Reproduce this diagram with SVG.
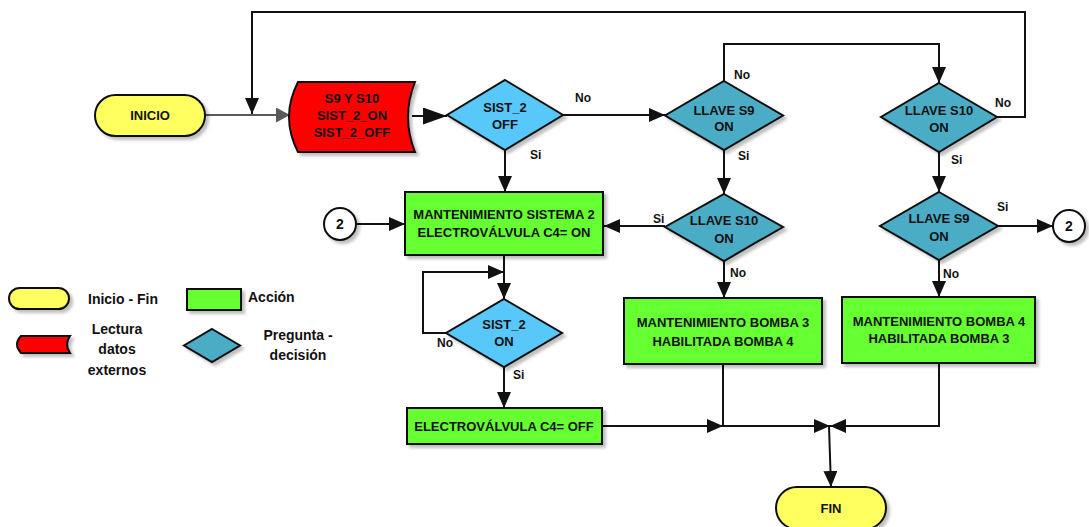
<svg xmlns="http://www.w3.org/2000/svg" width="1089" height="527" viewBox="0 0 1089 527">
<style>
text{font-family:"Liberation Sans",Arial,sans-serif;font-weight:bold;fill:#111}
.t{font-size:13px;text-anchor:middle}
.lb{font-size:12px}
.lg{font-size:14px;text-anchor:middle}
.sh{stroke:#111;stroke-width:2;filter:url(#ds)}
.term{fill:#FFFF5E}
.act{fill:#66FF33}
.rd{fill:#FF0000}
.dlb{fill:#59C8FA}
.dtl{fill:#4BACC6}
.cir{fill:#fff}
.c{fill:none;stroke:#111;stroke-width:2}
.cg{fill:none;stroke:#595959;stroke-width:2}
</style>
<defs>
<filter id="ds" x="-20%" y="-20%" width="150%" height="160%">
<feDropShadow dx="3" dy="3" stdDeviation="1.5" flood-color="#000" flood-opacity="0.25"/>
</filter>
<marker id="a" markerUnits="userSpaceOnUse" markerWidth="18" markerHeight="16" refX="16" refY="7" orient="auto">
<path d="M0,0 L16,7 L0,14 Z" fill="#111"/>
</marker>
<marker id="ab" markerUnits="userSpaceOnUse" markerWidth="26" markerHeight="18" refX="24" refY="8.5" orient="auto">
<path d="M0,0 L24,8.5 L0,17 Z" fill="#111"/>
</marker>
<marker id="ag" markerUnits="userSpaceOnUse" markerWidth="16" markerHeight="16" refX="14" refY="7.5" orient="auto">
<path d="M0,0 L14,7.5 L0,15 Z" fill="#595959"/>
</marker>
</defs>
<rect width="1089" height="527" fill="#fff"/>

<g id="connectors">
<path class="cg" d="M205,115 H290" marker-end="url(#ag)"/>
<path class="c" d="M997,117 H1025 V12 H252 V114" marker-end="url(#a)"/>
<path class="c" d="M412,116 H447" marker-end="url(#ab)"/>
<path class="c" d="M563,115 H665" marker-end="url(#a)"/>
<path class="c" d="M505,150 V192" marker-end="url(#a)"/>
<path class="c" d="M357,224 H405" marker-end="url(#a)"/>
<path class="c" d="M724,81 V44 H939 V83" marker-end="url(#a)"/>
<path class="c" d="M724,150 V194" marker-end="url(#a)"/>
<path class="c" d="M665,226 H604" marker-end="url(#a)"/>
<path class="c" d="M939,152 V192" marker-end="url(#a)"/>
<path class="c" d="M998,226 H1053" marker-end="url(#a)"/>
<path class="c" d="M724,261 V298" marker-end="url(#a)"/>
<path class="c" d="M939,260 V297" marker-end="url(#a)"/>
<path class="c" d="M504,255 V299" marker-end="url(#a)"/>
<path class="c" d="M446,333 H423 V272 H504" marker-end="url(#a)"/>
<path class="c" d="M504,367 V408" marker-end="url(#a)"/>
<path class="c" d="M602,426 H723" marker-end="url(#a)"/>
<path class="c" d="M723,364 V426 H830" marker-end="url(#a)"/>
<path class="c" d="M939,363 V426 H830" marker-end="url(#a)"/>
<path class="c" d="M829,426 L831,487" marker-end="url(#a)"/>
</g>

<g id="inicio">
<rect class="sh term" x="95" y="95" width="110" height="41" rx="20.5"/>
<text class="t" x="150" y="120">INICIO</text>
</g>

<g id="lectura">
<path class="sh rd" d="M298,82 H415 Q401,117 415,152 H298 Q280,117 298,82 Z"/>
<text class="t" x="352" y="103">S9 Y S10</text>
<text class="t" x="352" y="120">SIST_2_ON</text>
<text class="t" x="352" y="137">SIST_2_OFF</text>
</g>

<g id="sist2off">
<path class="sh dlb" d="M505,80 L563,115 L505,150 L447,115 Z"/>
<text class="t" x="505" y="112">SIST_2</text>
<text class="t" x="505" y="129">OFF</text>
</g>

<g id="llaveS9a">
<path class="sh dtl" d="M724,81 L783,115.5 L724,150 L665,115.5 Z"/>
<text class="t" x="724" y="115">LLAVE S9</text>
<text class="t" x="724" y="131">ON</text>
</g>

<g id="llaveS10a">
<path class="sh dtl" d="M939,83 L997,117 L939,152 L881,117 Z"/>
<text class="t" x="939" y="115">LLAVE S10</text>
<text class="t" x="939" y="132">ON</text>
</g>

<g id="llaveS10b">
<path class="sh dtl" d="M724,194 L783,227 L724,261 L665,227 Z"/>
<text class="t" x="724" y="225">LLAVE S10</text>
<text class="t" x="724" y="243">ON</text>
</g>

<g id="llaveS9b">
<path class="sh dtl" d="M939,192 L998,226 L939,260 L880,226 Z"/>
<text class="t" x="939" y="223">LLAVE S9</text>
<text class="t" x="939" y="241">ON</text>
</g>

<g id="mantSist2">
<rect class="sh act" x="405" y="192" width="198" height="63"/>
<text class="t" x="504" y="219">MANTENIMIENTO SISTEMA 2</text>
<text class="t" x="504" y="237">ELECTROVÁLVULA C4= ON</text>
</g>

<g id="con2a">
<circle class="sh cir" cx="340" cy="224" r="16"/>
<text class="t" x="340" y="229" style="font-size:14px">2</text>
</g>

<g id="con2b">
<circle class="sh cir" cx="1069" cy="226" r="16"/>
<text class="t" x="1069" y="231" style="font-size:14px">2</text>
</g>

<g id="sist2on">
<path class="sh dlb" d="M504,299 L562,333 L504,367 L446,333 Z"/>
<text class="t" x="504" y="329">SIST_2</text>
<text class="t" x="504" y="346">ON</text>
</g>

<g id="electroOff">
<rect class="sh act" x="407" y="408" width="195" height="36"/>
<text class="t" x="504" y="431">ELECTROVÁLVULA C4= OFF</text>
</g>

<g id="bomba3">
<rect class="sh act" x="624" y="298" width="198" height="66"/>
<text class="t" x="723" y="327">MANTENIMIENTO BOMBA 3</text>
<text class="t" x="723" y="346">HABILITADA BOMBA 4</text>
</g>

<g id="bomba4">
<rect class="sh act" x="842" y="297" width="193" height="66"/>
<text class="t" x="939" y="326">MANTENIMIENTO BOMBA 4</text>
<text class="t" x="939" y="343">HABILITADA BOMBA 3</text>
</g>

<g id="fin">
<rect class="sh term" x="776" y="487" width="110" height="42" rx="21"/>
<text class="t" x="831" y="513">FIN</text>
</g>

<g id="labels">
<text class="lb" x="575" y="102">No</text>
<text class="lb" x="530" y="159">Si</text>
<text class="lb" x="734" y="79">No</text>
<text class="lb" x="738" y="160">Si</text>
<text class="lb" x="653" y="223">Si</text>
<text class="lb" x="995" y="107">No</text>
<text class="lb" x="951" y="164">Si</text>
<text class="lb" x="997" y="211">Si</text>
<text class="lb" x="730" y="277">No</text>
<text class="lb" x="943" y="278">No</text>
<text class="lb" x="437" y="347">No</text>
<text class="lb" x="513" y="379">Si</text>
</g>

<g id="legend">
<rect class="sh term" x="9" y="288" width="60" height="21" rx="10.5"/>
<text class="lg" x="123" y="304">Inicio - Fin</text>
<rect class="sh act" x="187" y="289" width="54" height="21"/>
<text class="lg" x="248" y="302" style="text-anchor:start">Acción</text>
<path class="sh rd" d="M21,336 H70 Q64,344.5 70,353 H21 Q13,344.5 21,336 Z"/>
<text class="lg" x="117" y="334">Lectura</text>
<text class="lg" x="117" y="354">datos</text>
<text class="lg" x="117" y="375">externos</text>
<path class="sh dtl" d="M212,329 L240,345.5 L212,362 L184,345.5 Z"/>
<text class="lg" x="298" y="340">Pregunta -</text>
<text class="lg" x="298" y="360">decisión</text>
</g>
</svg>
